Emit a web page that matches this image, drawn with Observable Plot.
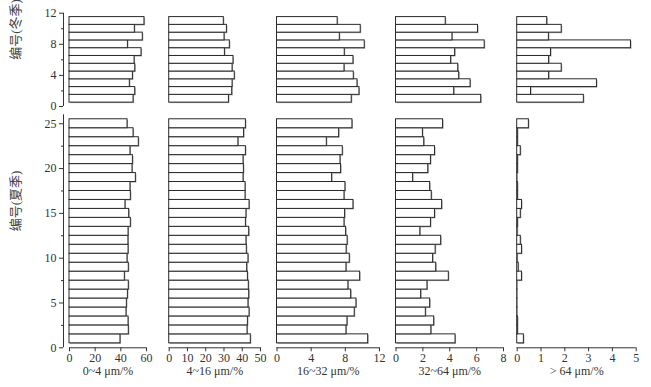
<!DOCTYPE html>
<html><head><meta charset="utf-8">
<script src="https://cdn.jsdelivr.net/npm/d3@7"></script>
<script src="https://cdn.jsdelivr.net/npm/@observablehq/plot@0.6"></script>
<style>
html,body{margin:0;padding:0;background:#fff;}
#chart{position:relative;width:651px;height:387px;overflow:hidden;background:#fff;}
#chart svg{position:absolute;left:0;top:0;background:transparent !important;}
</style></head><body><div id="chart"></div>
<script>
// categories
const winterIds = [1,2,3,4,5,6,7,8,9,10,11];
const summerIds = [1,2,3,4,5,6,7,8,9,10,11,12,13,14,15,16,17,18,19,20,21,22,23,24,25];
const sizeClasses = ["0~4 μm/%", "4~16 μm/%", "16~32 μm/%", "32~64 μm/%", "> 64 μm/%"];
const rowLabels = ["编号(冬季)", "编号(夏季)"];
// tick labels
const xMax = [60, 50, 12, 8, 5];
const xTicks = [[0,20,40,60],[0,10,20,30,40,50],[0,4,8,12],[0,2,4,6,8],[0,1,2,3,4,5]];
const winterYTicks = [0,4,8,12];
const winterYMinor = [2,6,10];
const summerYTicks = [0,5,10,15,20,25];
const summerYMinor = [2.5,7.5,12.5,17.5,22.5];

// winter values (id 1..11)
const winter0_4   = [49.9, 51.2, 47.0, 49.4, 51.2, 50.7, 56.1, 45.5, 57.1, 50.9, 58.4];
const winter4_16  = [32.7, 34.5, 34.7, 35.9, 34.7, 35.2, 30.5, 33.2, 30.3, 31.6, 29.9];
const winter16_32 = [8.75, 9.65, 9.42, 8.99, 7.9, 8.95, 7.93, 10.27, 7.35, 9.8, 7.1];
const winter32_64 = [6.34, 4.33, 5.55, 4.7, 4.63, 4.1, 4.4, 6.6, 4.2, 6.1, 3.7];
const winter64    = [2.8, 0.58, 3.35, 1.34, 1.87, 1.34, 1.42, 4.78, 1.33, 1.87, 1.26];

// summer values (id 1..25)
const summer0_4   = [39.7, 46.2, 46.0, 44.4, 44.7, 45.5, 46.2, 43.1, 46.2, 45.2, 46.0, 45.9, 46.0, 47.8, 46.5, 43.6, 47.8, 47.5, 51.7, 49.1, 49.4, 47.5, 54.0, 49.9, 45.2];
const summer4_16  = [44.7, 42.9, 43.1, 44.0, 43.4, 43.8, 43.6, 43.1, 42.7, 43.4, 42.5, 42.3, 43.8, 42.0, 42.3, 44.0, 41.8, 41.8, 40.7, 40.9, 40.7, 42.0, 37.9, 41.0, 42.0];
const summer16_32 = [10.67, 8.13, 8.25, 9.1, 9.3, 8.68, 8.36, 9.73, 8.13, 8.52, 8.15, 8.27, 8.09, 7.9, 7.97, 8.95, 7.9, 8.01, 6.45, 7.5, 7.43, 7.7, 5.83, 7.27, 8.83];
const summer32_64 = [4.43, 2.63, 2.84, 2.22, 2.54, 1.87, 2.34, 3.93, 2.99, 2.76, 2.95, 3.36, 1.81, 2.6, 2.9, 3.43, 2.66, 2.54, 1.27, 2.4, 2.6, 2.9, 2.1, 2.0, 3.5];
const summer64    = [0.28, 0.03, 0.03, 0.01, 0.01, 0.01, 0.01, 0.2, 0.06, 0.02, 0.2, 0.15, 0.02, 0.03, 0.15, 0.2, 0.03, 0.03, 0.01, 0.03, 0.03, 0.15, 0.03, 0.03, 0.49];

const winterSeries = [winter0_4, winter4_16, winter16_32, winter32_64, winter64];
const summerSeries = [summer0_4, summer4_16, summer16_32, summer32_64, summer64];

// layout (pixel frame of each panel)
const W = 651, H = 387;
const colX = [[69,146],[168.7,260],[276.5,379],[395.5,503],[516.7,635.7]];
const rows = [
  {ids: winterIds, series: winterSeries, yMax: 12, top: 12.7, bottom: 106, ticks: winterYTicks, minor: winterYMinor, xAxis: false},
  {ids: summerIds, series: summerSeries, yMax: 26, top: 114.3, bottom: 347.3, ticks: summerYTicks, minor: summerYMinor, xAxis: true}
];
const FONT = "'Liberation Serif','Times New Roman','Noto Sans CJK SC',serif";
const fmt = d3.format("d");
const chart = document.getElementById("chart");

rows.forEach((row, r) => {
  row.series.forEach((vals, c) => {
    const data = row.ids.map((id, i) => ({id, v: vals[i]}));
    const marks = [
      Plot.rectX(data, {x1: 0, x2: "v", y1: d => d.id - 0.5, y2: d => d.id + 0.5, fill: "#a0a0a0", dx: 1, dy: 1}),
      Plot.rectX(data, {x1: 0, x2: "v", y1: d => d.id - 0.5, y2: d => d.id + 0.5, fill: "white", stroke: "#2a2a2a", strokeWidth: 1})
    ];
    if (c === 0) {
      marks.push(Plot.ruleX([0], {dx: -6, stroke: "#333"}));
      marks.push(Plot.axisY({ticks: row.ticks, tickSize: 4, dx: -6, tickPadding: 3, fontSize: 12, stroke: "#333", tickFormat: fmt}));
      marks.push(Plot.axisY({ticks: row.minor, tickSize: 2, dx: -6, tickFormat: () => "", stroke: "#333"}));
      marks.push(Plot.text([rowLabels[r]], {text: d => d, frameAnchor: "left", dx: -54, rotate: -90, fontSize: 13, fill: "#444"}));
    }
    if (row.xAxis) {
      marks.push(Plot.ruleY([0], {stroke: "#333"}));
      marks.push(Plot.axisX({ticks: xTicks[c], tickSize: 4, tickPadding: 2, fontSize: 12, anchor: "bottom", stroke: "#333", tickFormat: fmt}));
      marks.push(Plot.text([sizeClasses[c]], {text: d => d, frameAnchor: "bottom", dy: 27, fontSize: 12, fill: "#333"}));
    }
    const svg = Plot.plot({
      width: W, height: H,
      marginLeft: colX[c][0], marginRight: W - colX[c][1],
      marginTop: row.top, marginBottom: H - row.bottom,
      style: {fontFamily: FONT, fontSize: "12px", color: "#333", background: "transparent", overflow: "visible"},
      x: {domain: [0, xMax[c]], label: null, axis: row.xAxis ? undefined : null},
      y: {domain: [0, row.yMax], label: null, axis: c === 0 ? undefined : null},
      marks
    });
    chart.appendChild(svg);
  });
});
</script></body></html>
